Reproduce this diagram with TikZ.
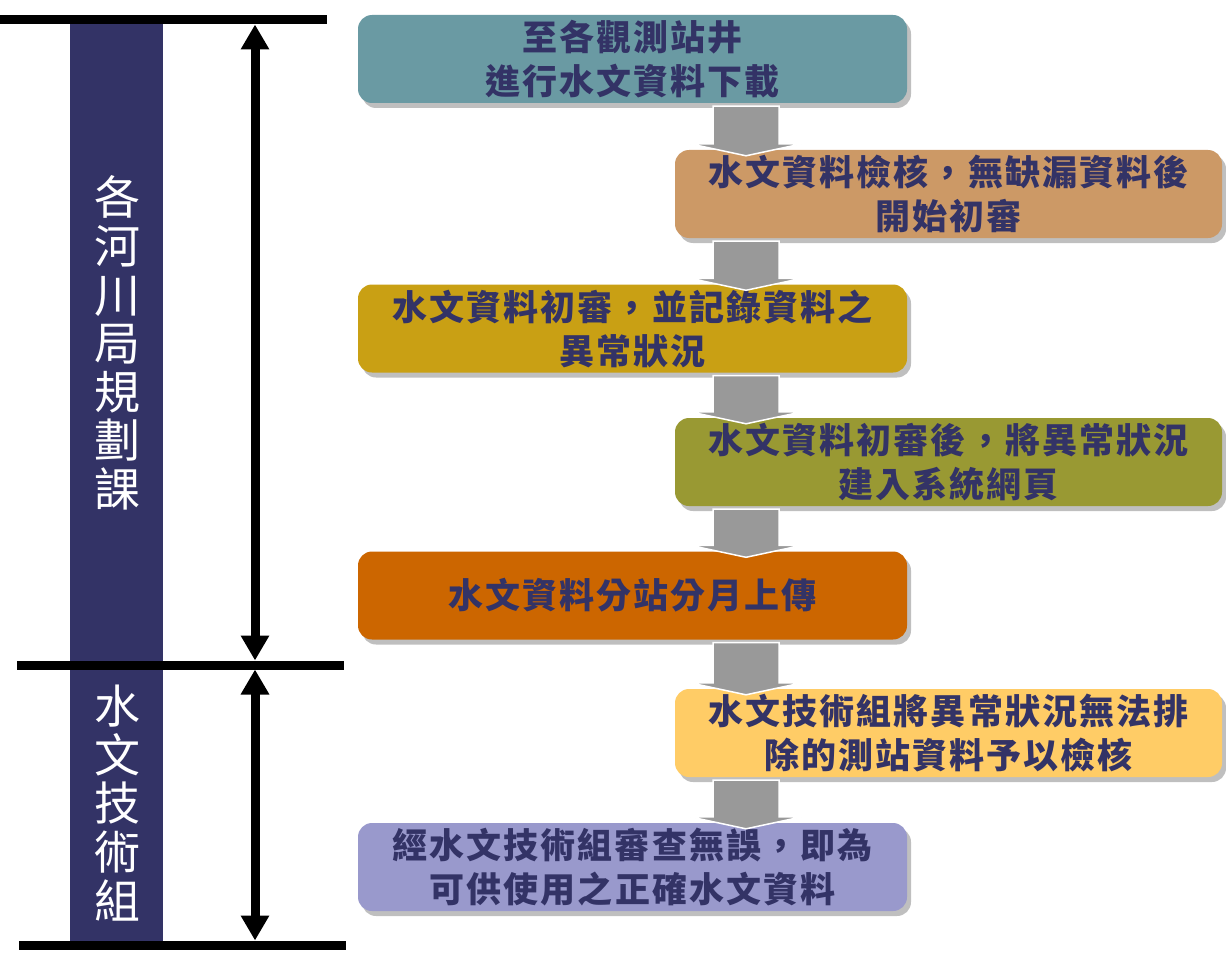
\documentclass[tikz,border=0pt]{standalone}
\usepackage{fontspec}
\newfontfamily\cjk{Noto Sans CJK TC}
\usetikzlibrary{arrows.meta,calc,shadows}
\definecolor{barblue}{HTML}{333366}
\definecolor{txtblue}{HTML}{333366}
\definecolor{cdown}{HTML}{6A9AA3}
\definecolor{ccheck}{HTML}{CC9966}
\definecolor{cfirst}{HTML}{C9A014}
\definecolor{cweb}{HTML}{999933}
\definecolor{cupload}{HTML}{CC6600}
\definecolor{creview}{HTML}{FFCC66}
\definecolor{cfinal}{HTML}{9999CC}
\tikzset{
  stepbox/.style={rounded corners=14pt,minimum width=549pt,minimum height=88pt,
    inner sep=0pt,align=center,text=txtblue,
    font=\cjk\bfseries\fontsize{35}{44}\selectfont\addfontfeature{LetterSpace=6},
    drop shadow={shadow xshift=4pt,shadow yshift=-5pt,fill=black!25,opacity=1}},
  flowarrow/.style={fill=black!40,draw=white,line width=1.5pt,line join=miter},
  sectext/.style={text=white,align=center,font=\cjk\fontsize{46}{48.6}\selectfont},
  rule/.style={line width=9pt},
  span/.style={line width=9pt,shorten <=4.5pt,shorten >=4.5pt,
    {Triangle[length=25pt,width=27pt]}-{Triangle[length=25pt,width=27pt]}}
}
\begin{document}
\begin{tikzpicture}[x=1pt,y=-1pt]
  \useasboundingbox (0,0) rectangle (1226,971);
  % left column: sections
  \fill[barblue] (70,20) rectangle (163,945);
  \draw[rule] (0,20) -- (327,20);
  \draw[rule] (17,665) -- (344,665);
  \draw[rule] (19,945) -- (346,945);
  \coordinate (top) at (255,20);
  \coordinate (mid) at (255,665);
  \coordinate (bot) at (255,945);
  \draw[span] (top) -- (mid);
  \draw[span] (mid) -- (bot);
  \node[sectext] (sec1) at (117,343) {各\\河\\川\\局\\規\\劃\\課};
  \node[sectext] (sec2) at (117,803) {水\\文\\技\\術\\組};
  % flow steps
  \node[stepbox,fill=cdown] (b1) at (632.5,59) {至各觀測站井\\進行水文資料下載};
  \node[stepbox,fill=ccheck,minimum width=547pt] (b2) at (948.5,194) {水文資料檢核，無缺漏資料後\\開始初審};
  \node[stepbox,fill=cfirst] (b3) at (632.5,328.5) {水文資料初審，並記錄資料之\\異常狀況};
  \node[stepbox,fill=cweb,minimum width=547pt] (b4) at (948.5,462) {水文資料初審後，將異常狀況\\建入系統網頁};
  \node[stepbox,fill=cupload] (b5) at (632.5,595.5) {水文資料分站分月上傳};
  \node[stepbox,fill=creview,minimum width=547pt] (b6) at (948.5,733) {水文技術組將異常狀況無法排\\除的測站資料予以檢核};
  \node[stepbox,fill=cfinal] (b7) at (632.5,867) {經水文技術組審查無誤，即為\\可供使用之正確水文資料};
  % block arrows between steps
  \coordinate (ax) at (746,0);
  \foreach \a/\b in {b1/b2,b2/b3,b3/b4,b4/b5,b5/b6,b6/b7}{
    \path (\a.south -| ax) coordinate (s) (\b.north -| ax) coordinate (t);
    \draw[flowarrow] ($(s)+(-33,3)$) -- ($(t)+(-33,-6)$) -- ($(t)+(-56,-6)$)
      -- ($(t)+(0,6)$) -- ($(t)+(56,-6)$) -- ($(t)+(33,-6)$) -- ($(s)+(33,3)$) -- cycle;
  }
\end{tikzpicture}
\end{document}
